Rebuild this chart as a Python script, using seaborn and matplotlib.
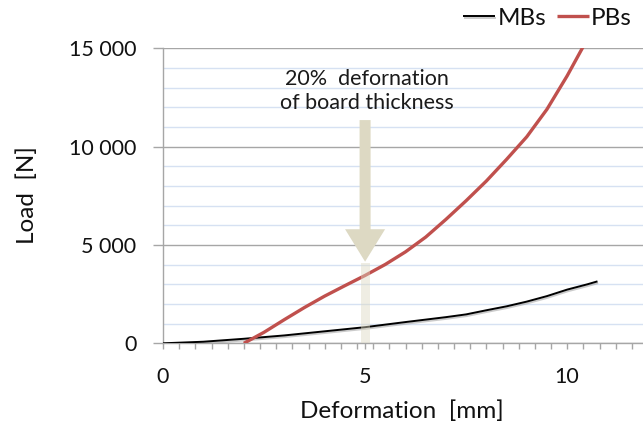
import numpy as np
import pandas as pd
import matplotlib
matplotlib.use("Agg")
import matplotlib.pyplot as plt
import matplotlib.patheffects as pe
from matplotlib.ticker import MultipleLocator, FuncFormatter
from matplotlib.patches import FancyArrow, Rectangle
import seaborn as sns

# ---- data ----
mb_x = [0, 1, 2, 3, 4, 5, 6, 7, 7.5, 8, 8.5, 9, 9.5, 10, 10.5, 10.75]
mb_y = [0, 80, 230, 400, 610, 820, 1080, 1330, 1470, 1680, 1880, 2120, 2400, 2730, 3000, 3150]
pb_x = [2.0, 2.5, 3.0, 3.5, 4.0, 4.5, 5.0, 5.5, 6.0, 6.5, 7.0, 7.5, 8.0, 8.5, 9.0, 9.5, 10.0, 10.4, 10.5]
pb_y = [0, 560, 1200, 1820, 2400, 2930, 3450, 4010, 4650, 5400, 6300, 7250, 8250, 9350, 10500, 11900, 13600, 15100, 15500]
series_names = ["MBs", "PBs"]
x_ticks = [0, 5, 10]
y_ticks = [0, 5000, 10000, 15000]
arrow_x = 5.0
annotation = "20%  defornation\nof board thickness"

df = pd.concat([
    pd.DataFrame({"x": mb_x, "y": mb_y, "s": series_names[0]}),
    pd.DataFrame({"x": pb_x, "y": pb_y, "s": series_names[1]}),
])

sns.set_theme(style="white")
plt.rcParams["font.family"] = ["Lato", "DejaVu Sans"]

W, H = 643, 429
fig = plt.figure(figsize=(W / 100, H / 100), dpi=100)
ax = fig.add_axes([163 / W, 1 - 343.3 / H, 485 / W, (343.3 - 48.3) / H])

ax.set_xlim(0, 12)
ax.set_ylim(0, 15000)

# grid
ax.yaxis.set_minor_locator(MultipleLocator(1000))
ax.grid(which="minor", axis="y", color="#d6e1f2", lw=1.0, zorder=0)
ax.grid(which="major", axis="y", color="#a6a6a6", lw=1.0, zorder=0)
ax.grid(False, axis="x", which="both")
ax.set_axisbelow(True)

# translucent band below arrow tip
ax.add_patch(Rectangle((arrow_x - 0.11, 0), 0.22, 4100, facecolor="#ddd9c3",
                       alpha=0.45, edgecolor="none", zorder=4))

sns.lineplot(data=df, x="x", y="y", hue="s", palette={"MBs": "#000000", "PBs": "#c0504d"},
             sort=False, estimator=None, ax=ax, legend=False, zorder=3)
lines = ax.get_lines()
lines[0].set_linewidth(1.4)
lines[0].set_path_effects([pe.SimpleLineShadow(offset=(0.5, -1.2), shadow_color="#999999", alpha=0.5),
                           pe.Normal()])
lines[1].set_linewidth(2.4)
for ln in lines:
    ln.set_solid_capstyle("butt")

# arrow shaft and head
shaft_w = 11 / 40.4
head_w = 40 / 40.4
tip_y = 4150
ax.add_patch(FancyArrow(arrow_x, 11350, 0, tip_y - 11350, width=shaft_w, head_width=head_w,
                        head_length=1650, length_includes_head=True,
                        facecolor="#ddd9c3", edgecolor="none", zorder=5))

ax.text(arrow_x + 0.05, 12850, annotation, ha="center", va="center", fontsize=15.5,
        color="#1a1a1a", linespacing=1.25, zorder=6)

# spines
for s in ["top", "right"]:
    ax.spines[s].set_visible(False)
for s in ["left", "bottom"]:
    ax.spines[s].set_color("#a6a6a6")
    ax.spines[s].set_linewidth(1.0)

# ticks
ax.set_xticks(x_ticks)
ax.xaxis.set_minor_locator(MultipleLocator(0.4))
ax.set_yticks(y_ticks)
ax.yaxis.set_major_formatter(FuncFormatter(lambda v, p: f"{int(v):,}".replace(",", " ")))
ax.tick_params(axis="x", which="both", direction="out", length=4, width=1, color="#a6a6a6",
               bottom=True, labelsize=15.5, pad=13, labelcolor="#111111")
ax.tick_params(axis="y", which="major", direction="out", length=7, width=1, color="#a6a6a6",
               left=True, labelsize=15.5, pad=12, labelcolor="#111111")
ax.tick_params(axis="y", which="minor", length=0, left=False)

ax.set_xlabel("Deformation  [mm]", fontsize=17.5, color="#111111", va="center")
ax.set_ylabel("Load  [N]", fontsize=17.5, color="#111111", va="center")
ax.xaxis.set_label_coords((402 - 163) / 485, -(411 - 343.3) / 295)
ax.yaxis.set_label_coords(-(163 - 27) / 485, (343.3 - 195) / 295)

# legend
leg = fig.legend(handles=lines, labels=series_names, loc="center right",
                 bbox_to_anchor=(632 / W, 1 - 18 / H), ncol=2, frameon=False,
                 fontsize=17.5, handlelength=1.3, handletextpad=0.1, columnspacing=0.45,
                 borderaxespad=0, borderpad=0)
for t in leg.get_texts():
    t.set_color("#111111")

fig.savefig("out.png", dpi=100)
